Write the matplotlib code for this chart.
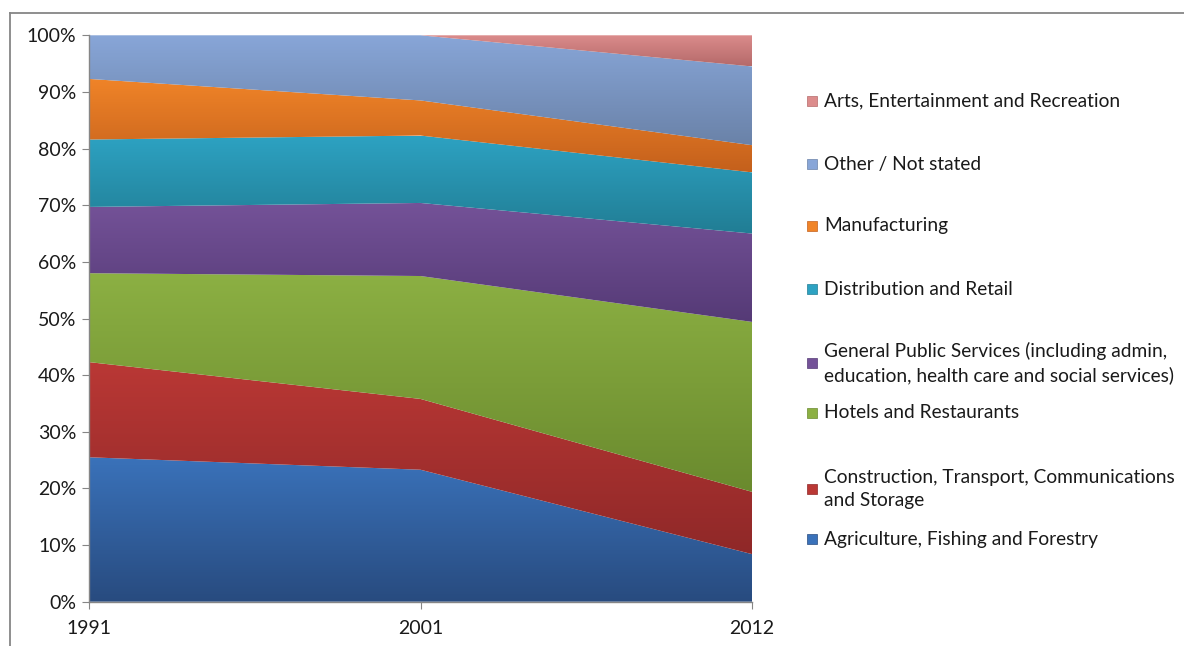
import numpy as np
import matplotlib
matplotlib.use("Agg")
import matplotlib.pyplot as plt
from matplotlib.colors import LinearSegmentedColormap
from matplotlib.patches import Rectangle

plt.rcParams['font.family'] = ['Lato', 'DejaVu Sans']

# census years and employment share (%) by sector, bottom to top of the stack
years = ['1991', '2001', '2012']
agriculture = [25.5, 23.3, 8.4]
construction = [16.8, 12.5, 11.0]
hotels = [15.7, 21.7, 30.0]
public_services = [11.7, 12.9, 15.6]
distribution = [11.9, 11.9, 10.8]
manufacturing = [10.7, 6.2, 4.8]
other = [7.7, 11.5, 13.9]
arts = [0.0, 0.0, 5.5]

labels = [
    'Agriculture, Fishing and Forestry',
    'Construction, Transport, Communications\nand Storage',
    'Hotels and Restaurants',
    'General Public Services (including admin,\neducation, health care and social services)',
    'Distribution and Retail',
    'Manufacturing',
    'Other / Not stated',
    'Arts, Entertainment and Recreation',
]
series = [agriculture, construction, hotels, public_services,
          distribution, manufacturing, other, arts]

# (top colour, bottom colour) for the vertical gradient of each band
shades = [
    ('#3a72ba', '#284b7f'),
    ('#ba3835', '#8f2828'),
    ('#8cb043', '#6a8a2e'),
    ('#745298', '#553a76'),
    ('#2da2c2', '#217d94'),
    ('#f08428', '#c4601c'),
    ('#88a6d8', '#6a82a8'),
    ('#dc8c8c', '#b56a6a'),
]

fig = plt.figure(figsize=(11.84, 6.46), dpi=100)
ax = fig.add_axes([89 / 1184, 1 - 601.7 / 646, 663 / 1184, 566.4 / 646])

x = np.arange(len(years))
base = np.zeros(len(years))
for vals, (c_top, c_bot) in zip(series, shades):
    top = base + np.array(vals)
    poly = ax.fill_between(x, base, top, facecolor='none', edgecolor='none')
    lo, hi = base.min(), top.max()
    if hi - lo > 0:
        cmap = LinearSegmentedColormap.from_list('g', [c_bot, c_top])
        grad = np.linspace(0, 1, 256).reshape(-1, 1)
        im = ax.imshow(grad, cmap=cmap, origin='lower', aspect='auto',
                       extent=[x[0], x[-1], lo, hi], interpolation='bilinear')
        im.set_clip_path(poly.get_paths()[0], transform=ax.transData)
    base = top

ax.set_xlim(x[0], x[-1])
ax.set_ylim(0, 100)
ax.set_xticks(x)
ax.set_xticklabels(years)
ax.set_yticks(np.arange(0, 101, 10))
ax.set_yticklabels([f'{v}%' for v in range(0, 101, 10)])
for s in ['top', 'right']:
    ax.spines[s].set_visible(False)
for s in ['left', 'bottom']:
    ax.spines[s].set_color('#868686')
    ax.spines[s].set_linewidth(1)
ax.tick_params(axis='both', direction='out', length=5, color='#868686',
               labelsize=14, labelcolor='#1a1a1a')
ax.tick_params(axis='y', pad=4)
ax.tick_params(axis='x', pad=8)

# hand placed legend, entries listed top to bottom
legend_y = [101, 164, 226, 289, 363, 413, 489, 539]
for i, yy in enumerate(legend_y):
    k = len(series) - 1 - i
    yf = 1 - yy / 646
    fig.patches.append(Rectangle((807 / 1184, yf - 5 / 646), 10 / 1184, 10 / 646,
                                 transform=fig.transFigure, facecolor=shades[k][0],
                                 edgecolor=shades[k][1], linewidth=0.5))
    fig.text(824 / 1184, yf, labels[k], fontsize=13.8, color='#1a1a1a',
             va='center', ha='left', linespacing=1.45)

# chart frame
fig.add_artist(plt.Line2D([10 / 1184, 1.0], [1 - 12.5 / 646] * 2,
                          transform=fig.transFigure, color='#868686', linewidth=1.3))
fig.add_artist(plt.Line2D([10 / 1184] * 2, [0, 1 - 12.5 / 646],
                          transform=fig.transFigure, color='#868686', linewidth=1.3))

fig.savefig('out.png', dpi=100)
